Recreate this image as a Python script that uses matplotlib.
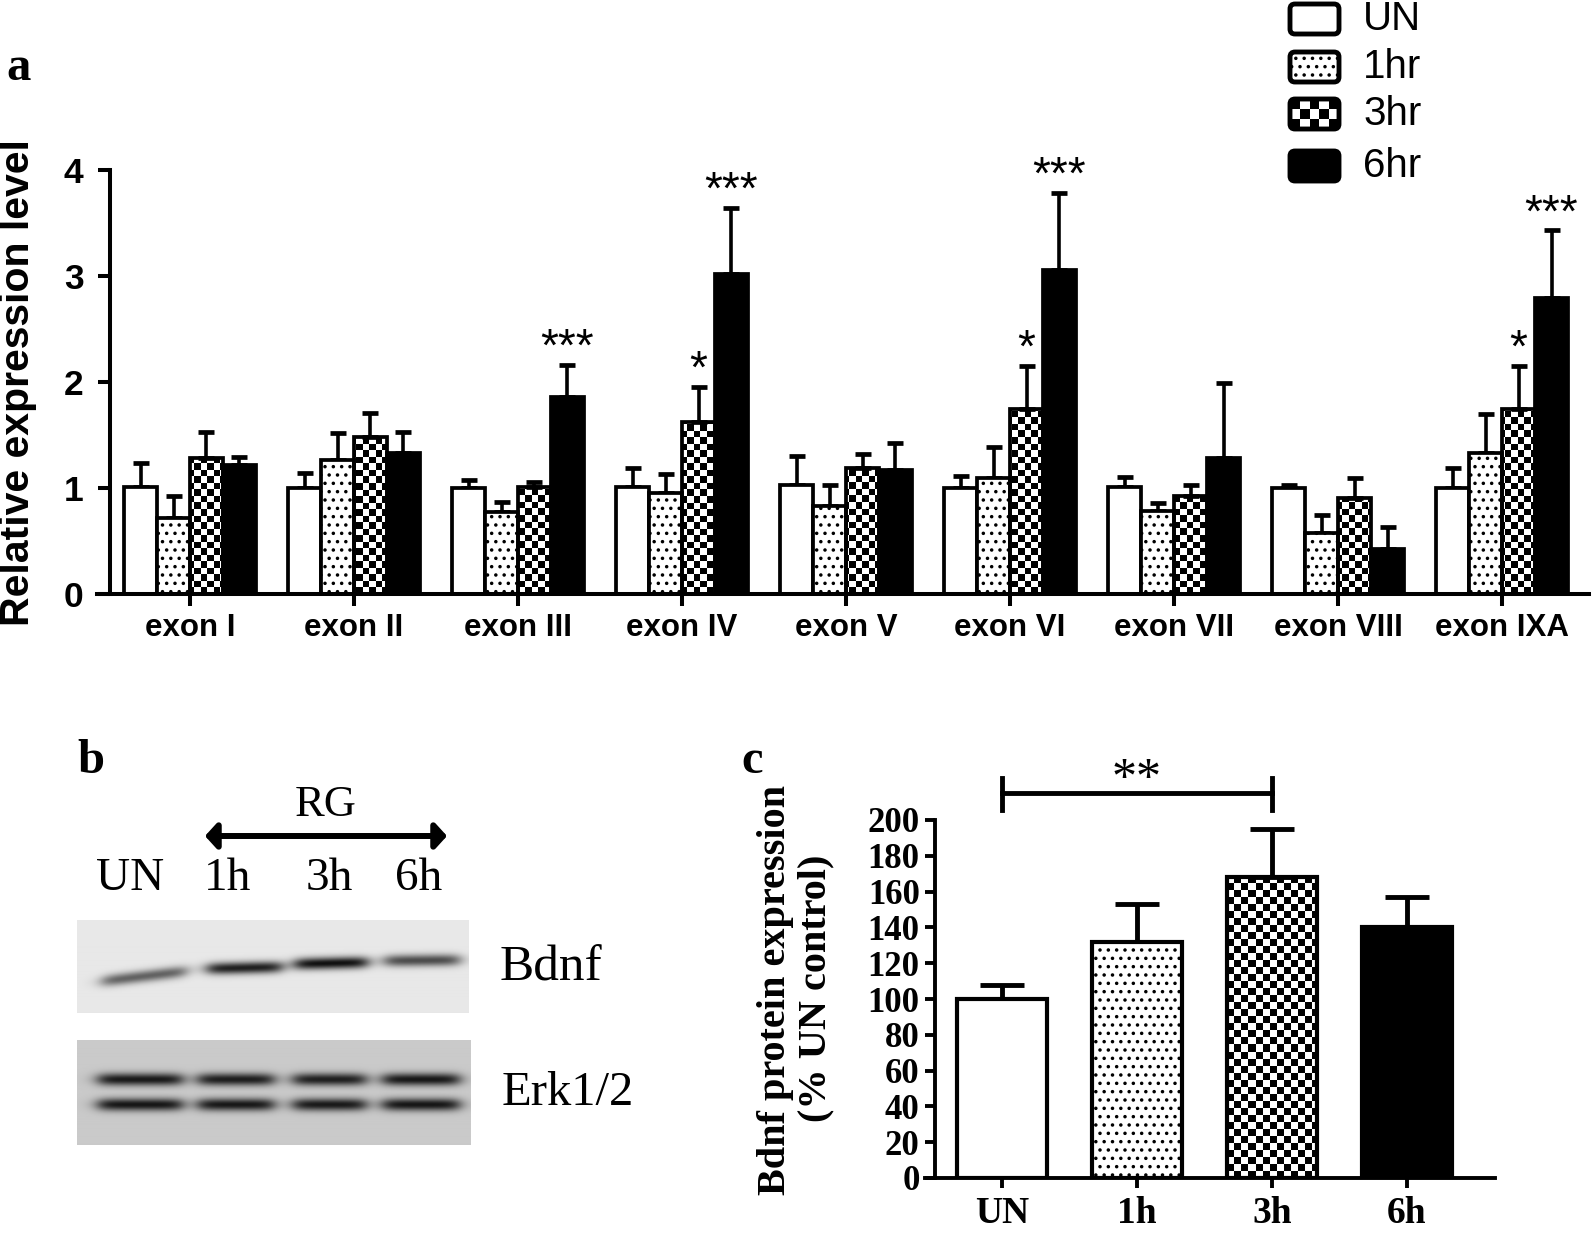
import numpy as np
import matplotlib.pyplot as plt
from matplotlib.patches import FancyBboxPatch

plt.rcParams['font.family'] = ['Liberation Sans', 'DejaVu Sans']
plt.rcParams['hatch.linewidth'] = 1.3

W, H = 1595, 1234
SERIF = 'Liberation Serif'

# ---- panel a: relative expression of Bdnf exons ----
exons = ['exon I', 'exon II', 'exon III', 'exon IV', 'exon V',
         'exon VI', 'exon VII', 'exon VIII', 'exon IXA']
times_a = ['UN', '1hr', '3hr', '6hr']
un_mean = [1.01, 1.00, 1.00, 1.01, 1.03, 1.00, 1.01, 1.00, 1.00]
un_err = [0.23, 0.14, 0.08, 0.18, 0.27, 0.11, 0.09, 0.03, 0.19]
hr1_mean = [0.72, 1.26, 0.77, 0.95, 0.83, 1.09, 0.78, 0.58, 1.33]
hr1_err = [0.20, 0.26, 0.10, 0.18, 0.20, 0.30, 0.08, 0.17, 0.37]
hr3_mean = [1.28, 1.48, 1.01, 1.62, 1.19, 1.75, 0.92, 0.91, 1.75]
hr3_err = [0.25, 0.23, 0.05, 0.33, 0.13, 0.40, 0.11, 0.18, 0.40]
hr6_mean = [1.22, 1.33, 1.86, 3.02, 1.17, 3.06, 1.28, 0.42, 2.79]
hr6_err = [0.07, 0.20, 0.30, 0.62, 0.25, 0.72, 0.71, 0.21, 0.64]
# (exon index, series index, label)
stars_a = [(2, 3, '***'), (3, 2, '*'), (3, 3, '***'), (5, 2, '*'),
           (5, 3, '***'), (8, 2, '*'), (8, 3, '***')]

# ---- panel b: western blot band strengths ----
lanes_b = ['UN', '1h', '3h', '6h']
bdnf_band = [0.62, 0.93, 1.0, 0.72]
erk_upper = [0.95, 0.93, 0.92, 0.96]
erk_lower = [0.97, 0.96, 0.95, 0.97]

# ---- panel c: Bdnf protein ----
times_c = ['UN', '1h', '3h', '6h']
prot_mean = [100, 132, 168, 140]
prot_err = [8, 21, 27, 17]


def rect(x0, y0, x1, y1):
    # pixel box (top-left origin) -> figure fraction
    return [x0 / W, 1 - y1 / H, (x1 - x0) / W, (y1 - y0) / H]


def checker(ax, size):
    bb = ax.get_position()
    nx = int(round(bb.width * W / size))
    ny = int(round(bb.height * H / size))
    return np.indices((ny, nx)).sum(axis=0) % 2


def fill_checker(ax, patches, size):
    board = checker(ax, size)
    for p in patches:
        im = ax.imshow(board, cmap='gray', vmin=0, vmax=1, extent=(0, 1, 0, 1),
                       transform=ax.transAxes, aspect='auto',
                       interpolation='nearest', zorder=1)
        im.set_clip_path(p)


def blot(shape, bg, edges, ycs, strengths, sig, tilt=None):
    h, w = shape
    yy, xx = np.mgrid[0:1:h * 1j, 0:1:w * 1j]
    dark = np.zeros(shape)
    for i, ((x0, x1), yc, s) in enumerate(zip(edges, ycs, strengths)):
        t = 0 if tilt is None else tilt[i]
        yline = yc + t * (xx - (x0 + x1) / 2)
        hor = 1 / (1 + np.exp(-(xx - x0) / 0.012)) / (1 + np.exp((xx - x1) / 0.012))
        ver = np.exp(-((yy - yline) / sig) ** 2)
        dark += s * hor * ver
    return bg - (bg - 0.06) * np.clip(dark, 0, 1)


fig = plt.figure(figsize=(W / 100, H / 100), dpi=100)

# ================= panel a =================
ax = fig.add_axes(rect(97, 170, 1589, 594))
x = np.arange(len(exons))
bw = 0.201
means_a = [un_mean, hr1_mean, hr3_mean, hr6_mean]
errs_a = [un_err, hr1_err, hr3_err, hr6_err]
styles = [dict(color='white'), dict(color='white', hatch='..'),
          dict(color='none'), dict(color='black')]
for k in range(4):
    xs = x + (k - 1.5) * bw
    bars = ax.bar(xs, means_a[k], bw, edgecolor='black', linewidth=2.7,
                  zorder=2, **styles[k])
    ax.errorbar(xs, means_a[k], yerr=[np.zeros(len(xs)), errs_a[k]], fmt='none',
                ecolor='black', elinewidth=2.6, capsize=6.1, capthick=3.4, zorder=1.8)
    if k == 2:
        fill_checker(ax, bars.patches, 6.5)

for g, k, s in stars_a:
    top = means_a[k][g] + errs_a[k][g]
    ax.annotate(s, (x[g] + (k - 1.5) * bw, top), xytext=(0, 3),
                textcoords='offset points', ha='center', va='baseline', fontsize=33)

ax.set_xlim(-0.567, 8.53)
ax.set_ylim(0, 4)
ax.spines[['top', 'right']].set_visible(False)
ax.spines['left'].set_position(('axes', 0.0087))
for s in ('left', 'bottom'):
    ax.spines[s].set_linewidth(2.9)
ax.set_yticks([0, 1, 2, 3, 4])
ax.set_yticklabels(['0', '1', '2', '3', '4'], fontweight='bold', fontsize=25.5)
ax.set_xticks(x, exons, fontweight='bold', fontsize=22.5)
ax.tick_params(axis='y', length=9, width=2.9, pad=10)
ax.tick_params(axis='x', length=8.5, width=2.9, pad=5)

# ================= panel b =================
bx = fig.add_axes(rect(77, 920, 469, 1013))
bdnf_img = blot((93, 392), 0.91,
                [(0.064, 0.278), (0.332, 0.523), (0.556, 0.742), (0.786, 0.977)],
                [0.61, 0.52, 0.47, 0.44], bdnf_band, 0.065, tilt=[-0.5, -0.1, -0.1, -0.05])
bx.imshow(bdnf_img, cmap='gray', vmin=0, vmax=1, aspect='auto', interpolation='bilinear')
ex = fig.add_axes(rect(77, 1040, 471, 1145))
erk_edges = [(0.053, 0.267), (0.307, 0.50), (0.549, 0.734), (0.777, 0.972)]
erk_img = np.minimum(blot((105, 394), 0.79, erk_edges, [0.38] * 4, erk_upper, 0.06),
                     blot((105, 394), 0.79, erk_edges, [0.62] * 4, erk_lower, 0.06))
ex.imshow(erk_img, cmap='gray', vmin=0, vmax=1, aspect='auto', interpolation='bilinear')
for a in (bx, ex):
    a.set_xticks([])
    a.set_yticks([])
    for sp in a.spines.values():
        sp.set_visible(False)

# ================= panel c =================
cx = fig.add_axes(rect(925, 820, 1495, 1178))
xc = np.arange(len(times_c))
bars_c = cx.bar(xc, prot_mean, 0.66, color=['white', 'white', 'none', 'black'],
                edgecolor='black', linewidth=3, zorder=2)
bars_c.patches[1].set_hatch('..')
cx.errorbar(xc, prot_mean, yerr=[np.zeros(len(xc)), prot_err], fmt='none',
            ecolor='black', elinewidth=3.5, capsize=16, capthick=3.5, zorder=1.8)
fill_checker(cx, [bars_c.patches[2]], 7)

# significance bracket UN vs 3h
cx.plot([0, 2], [215, 215], color='black', lw=3.5, clip_on=False)
for xb in (0, 2):
    cx.plot([xb, xb], [205.6, 223.5], color='black', lw=3.5, clip_on=False)
cx.text(1, 215.5, '**', ha='center', va='baseline', family=SERIF, fontsize=36)

cx.set_xlim(-0.570, 3.652)
cx.set_ylim(0, 200)
cx.spines[['top', 'right']].set_visible(False)
cx.spines['left'].set_position(('axes', 0.0175))
for s in ('left', 'bottom'):
    cx.spines[s].set_linewidth(2.8)
cx.set_yticks(np.arange(0, 201, 20))
cx.set_yticklabels([str(v) for v in range(0, 201, 20)], family=SERIF,
                   fontweight='bold', fontsize=25)
cx.set_xticks(xc, times_c, family=SERIF, fontweight='bold', fontsize=27)
cx.tick_params(axis='y', length=7, width=2.8, pad=4)
cx.tick_params(axis='x', length=7, width=2.8, pad=6)

# ================= overlay: labels, legend, blot text =================
ov = fig.add_axes([0, 0, 1, 1])
ov.axis('off')

for lab, px, py in [('a', 19, 80), ('b', 91, 773), ('c', 752, 773)]:
    ov.text(px, py, lab, family=SERIF, weight='bold', fontsize=35,
            ha='center', va='baseline')

ov.text(18, 383, 'Relative expression level', rotation=90, ha='center',
        va='center', fontsize=29.5, weight='bold')

# legend
leg_y = [19, 67, 114, 166]
leg_style = [dict(fc='white'), dict(fc='white', hatch='..'),
             dict(fc='none'), dict(fc='black')]
for k, (lab, yc) in enumerate(zip(times_a, leg_y)):
    box = FancyBboxPatch((1290, yc - 15), 49, 30, boxstyle='round,pad=0,rounding_size=5',
                         ec='black', lw=3.5, zorder=3, **leg_style[k])
    ov.add_patch(box)
    if k == 2:
        im = ov.imshow(np.indices((3, 5)).sum(axis=0) % 2, cmap='gray', vmin=0, vmax=1,
                       extent=(1290, 1339, yc + 15, yc - 15), aspect='auto',
                       interpolation='nearest', zorder=2)
        im.set_clip_path(box)
    ov.text(1363, yc, lab, ha='left', va='center', fontsize=29)

# blot annotations
ov.text(326, 805, 'RG', family=SERIF, fontsize=32, ha='center', va='center')
ov.annotate('', xy=(447, 836), xytext=(205, 836),
            arrowprops=dict(arrowstyle='<|-|>,head_length=0.5,head_width=0.55',
                            lw=4.3, color='black', shrinkA=0, shrinkB=0,
                            mutation_scale=14))
for lab, px in zip(lanes_b, [130, 228, 329, 419]):
    ov.text(px, 879, lab, family=SERIF, fontsize=34, ha='center', va='center')
ov.text(500, 968, 'Bdnf', family=SERIF, fontsize=37, ha='left', va='center')
ov.text(502, 1093, 'Erk1/2', family=SERIF, fontsize=35, ha='left', va='center')

# panel c axis title
ov.text(776, 990, 'Bdnf protein expression', family=SERIF, weight='bold',
        fontsize=29, rotation=90, ha='center', va='center')
ov.text(816, 988, '(% UN control)', family=SERIF, weight='bold',
        fontsize=29, rotation=90, ha='center', va='center')

ov.set_xlim(0, W)
ov.set_ylim(H, 0)

fig.savefig('out.png', dpi=100)
